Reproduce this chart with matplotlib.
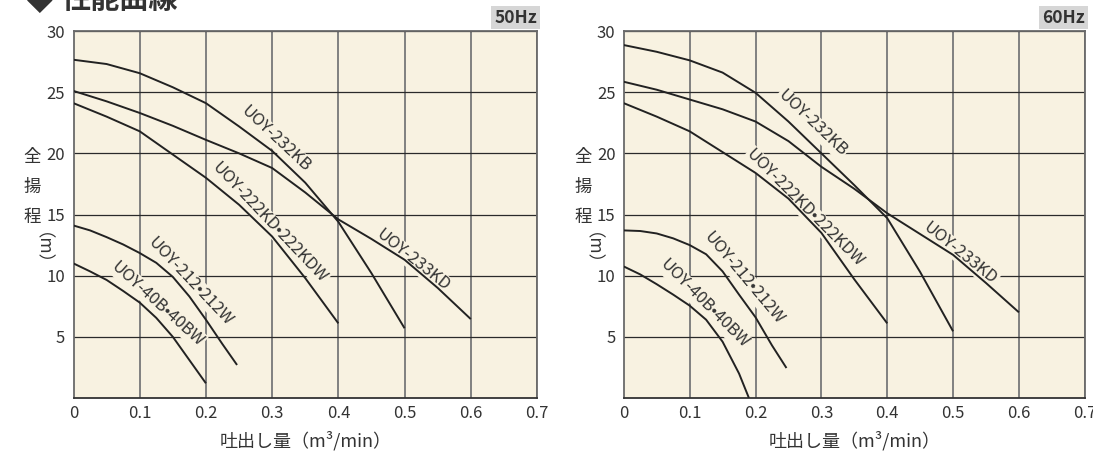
import matplotlib.pyplot as plt

plt.rcParams['font.family'] = ['Noto Sans CJK JP', 'DejaVu Sans']

# 性能曲線 data (flow m3/min, head m)
labels = ['UOY-232KB', 'UOY-233KD', 'UOY-222KD•222KDW', 'UOY-212•212W', 'UOY-40B•40BW']

q_50 = [
    [0, 0.05, 0.1, 0.15, 0.2, 0.25, 0.3, 0.35, 0.4, 0.45, 0.5],
    [0, 0.05, 0.1, 0.15, 0.2, 0.25, 0.3, 0.35, 0.4, 0.45, 0.5, 0.55, 0.6],
    [0, 0.05, 0.1, 0.15, 0.2, 0.25, 0.3, 0.35, 0.4],
    [0, 0.025, 0.05, 0.075, 0.1, 0.125, 0.15, 0.175, 0.2, 0.225, 0.247],
    [0, 0.025, 0.05, 0.075, 0.1, 0.125, 0.15, 0.175, 0.2],
]
h_50 = [
    [27.65, 27.3, 26.55, 25.4, 24.1, 22.2, 20.2, 17.6, 14.4, 10.2, 5.7],
    [25.1, 24.25, 23.3, 22.25, 21.1, 20.0, 18.8, 16.8, 14.6, 13.0, 11.3, 9.0, 6.45],
    [24.1, 23.0, 21.8, 19.9, 18.0, 15.8, 13.2, 9.8, 6.1],
    [14.1, 13.7, 13.15, 12.55, 11.85, 11.05, 9.9, 8.3, 6.4, 4.4, 2.7],
    [11.0, 10.35, 9.65, 8.75, 7.8, 6.55, 5.0, 3.1, 1.2],
]

q_60 = [
    [0, 0.05, 0.1, 0.15, 0.2, 0.25, 0.3, 0.35, 0.4, 0.45, 0.5],
    [0, 0.05, 0.1, 0.15, 0.2, 0.25, 0.3, 0.35, 0.4, 0.45, 0.5, 0.55, 0.6],
    [0, 0.05, 0.1, 0.15, 0.2, 0.25, 0.3, 0.35, 0.4],
    [0, 0.025, 0.05, 0.075, 0.1, 0.125, 0.15, 0.175, 0.2, 0.225, 0.247],
    [0, 0.025, 0.05, 0.075, 0.1, 0.125, 0.15, 0.175, 0.19],
]
h_60 = [
    [28.85, 28.3, 27.6, 26.6, 24.95, 22.6, 20.0, 17.4, 14.7, 10.3, 5.45],
    [25.85, 25.2, 24.4, 23.6, 22.6, 21.0, 18.9, 17.1, 15.1, 13.4, 11.7, 9.4, 7.0],
    [24.1, 23.0, 21.8, 20.1, 18.4, 16.3, 13.5, 9.7, 6.1],
    [13.7, 13.65, 13.45, 13.05, 12.5, 11.75, 10.35, 8.45, 6.6, 4.3, 2.45],
    [10.75, 10.1, 9.3, 8.45, 7.55, 6.4, 4.6, 2.0, 0.0],
]

# label placement (x, y, angle) per curve
pos_50 = [(0.305, 21.2, -43), (0.512, 11.3, -38.5), (0.296, 14.3, -46.5), (0.177, 9.5, -46.5), (0.127, 7.7, -42)]
pos_60 = [(0.286, 22.45, -43.5), (0.511, 11.8, -38.7), (0.275, 15.5, -45), (0.182, 9.8, -50), (0.122, 7.7, -45)]

xticks = [0, 0.1, 0.2, 0.3, 0.4, 0.5, 0.6, 0.7]
xticklabels = ['0', '0.1', '0.2', '0.3', '0.4', '0.5', '0.6', '0.7']
yticks = [5, 10, 15, 20, 25, 30]

bg = '#f8f2e1'
W, H = 1093, 458
fig = plt.figure(figsize=(W / 100, H / 100), dpi=100)


def draw(rect, qs, hs, pos, hz):
    ax = fig.add_axes(rect)
    ax.set_facecolor(bg)
    ax.set_xlim(0, 0.7)
    ax.set_ylim(0, 30)
    for x in xticks[1:]:
        ax.axvline(x, color='#808080', lw=1.4, zorder=0.5)
    for y in yticks:
        ax.axhline(y, color='#2a2a2a', lw=0.9, zorder=0.5)
    for q, h in zip(qs, hs):
        ax.plot(q, h, color='#222222', lw=1.4, zorder=3, solid_capstyle='butt')
    for lab, (x, y, a) in zip(labels, pos):
        ax.text(x, y, lab, rotation=a, rotation_mode='anchor', ha='center', va='center',
                fontsize=12, color='#333333', zorder=2,
                bbox=dict(facecolor=bg, edgecolor='none', pad=0.8))
    ax.set_xticks(xticks)
    ax.set_xticklabels(xticklabels)
    ax.set_yticks(yticks)
    ax.tick_params(length=0, labelsize=12, colors='#333333')
    ax.tick_params(axis='y', pad=6)
    ax.tick_params(axis='x', pad=5)
    for s in ax.spines.values():
        s.set_color('#6a6a6a')
        s.set_linewidth(1.3)
    ax.spines['bottom'].set_color('#333333')
    # Hz badge
    ax.text(1.0, 1.012, hz, transform=ax.transAxes, ha='right', va='bottom',
            fontsize=12.5, fontweight='bold', color='#333333',
            bbox=dict(facecolor='#d6d6d6', edgecolor='none', pad=2.0))
    # axis titles
    l, b, w, hgt = rect
    fig.text(l + w / 2, 1 - 441 / H, '吐出し量（m³/min）', ha='center', va='center',
             fontsize=13, color='#333333')
    yx = l - 41 / W
    for ch, py in zip(['全', '揚', '程'], [157, 187, 217]):
        fig.text(yx, 1 - py / H, ch, ha='center', va='center', fontsize=12.5, color='#333333')
    fig.text(yx, 1 - 257 / H, '（m）', ha='center', va='center', rotation=-90,
             fontsize=12.5, color='#333333')
    return ax


draw([73.5 / W, 60 / H, 463.5 / W, 367 / H], q_50, h_50, pos_50, '50Hz')
draw([623.8 / W, 60 / H, 461 / W, 367 / H], q_60, h_60, pos_60, '60Hz')

fig.text(27 / W, 1 + 1 / H, '◆', ha='left', va='center', fontsize=24, color='#333333',
         family=['DejaVu Sans'])
fig.text(62 / W, 1 + 1 / H, '性能曲線', ha='left', va='center', fontsize=21,
         fontweight='bold', color='#333333')

fig.savefig('out.png', dpi=100, facecolor='white')
